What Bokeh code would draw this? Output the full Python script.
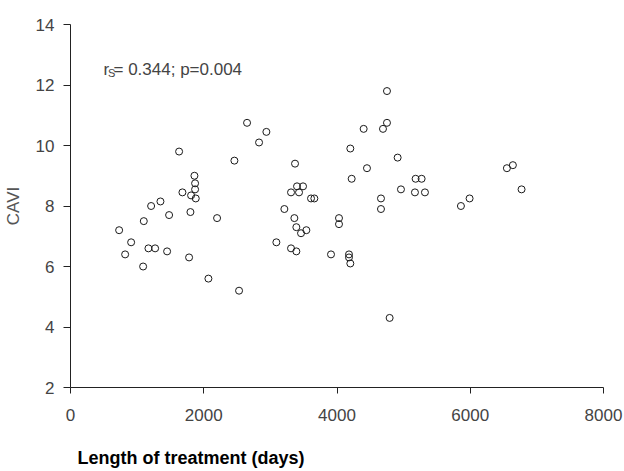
from bokeh.plotting import figure
from bokeh.models import Range1d, FixedTicker, Label, Title, ColumnDataSource
from bokeh.embed import file_html
from bokeh.resources import INLINE

# Data
treatment_days = [730, 820, 910, 1090, 1100, 1170, 1210, 1270, 1350, 1450,
                  1480, 1630, 1680, 1780, 1800, 1810, 1860, 1870, 1870, 1880,
                  2070, 2200, 2460, 2530, 2650, 2830, 2940, 3090, 3210, 3310,
                  3310, 3360, 3370, 3390, 3390, 3400, 3430, 3460, 3490, 3540,
                  3610, 3660, 3910, 4030, 4030, 4180, 4180, 4200, 4200, 4220,
                  4400, 4450, 4660, 4660, 4690, 4750, 4750, 4790, 4910, 4960,
                  5170, 5180, 5270, 5320, 5860, 5990, 6550, 6640, 6770]
cavi = [7.2, 6.4, 6.8, 6.0, 7.5, 6.6, 8.0, 6.6, 8.15, 6.5,
        7.7, 9.8, 8.45, 6.3, 7.8, 8.35, 9.0, 8.75, 8.55, 8.25,
        5.6, 7.6, 9.5, 5.2, 10.75, 10.1, 10.45, 6.8, 7.9, 8.45,
        6.6, 7.6, 9.4, 7.3, 6.5, 8.65, 8.45, 7.1, 8.65, 7.2,
        8.25, 8.25, 6.4, 7.6, 7.4, 6.4, 6.3, 6.1, 9.9, 8.9,
        10.55, 9.25, 8.25, 7.9, 10.55, 11.8, 10.75, 4.3, 9.6, 8.55,
        8.45, 8.9, 8.9, 8.45, 8.0, 8.25, 9.25, 9.35, 8.55]
x_ticks = [0, 2000, 4000, 6000, 8000]
y_ticks = [2, 4, 6, 8, 10, 12, 14]
x_title = "Length of treatment (days)"
y_title = "CAVI"

FONT = "Liberation Sans"

p = figure(width=624, height=471, output_backend="svg", toolbar_location=None,
           x_range=Range1d(0, 8000), y_range=Range1d(2, 14),
           min_border_left=69, min_border_right=21, min_border_top=24,
           min_border_bottom=84)
p.title.text = ""
p.outline_line_color = None
p.background_fill_color = "white"
p.border_fill_color = "white"
p.xgrid.visible = False
p.ygrid.visible = False

src = ColumnDataSource(dict(x=treatment_days, y=cavi))
p.scatter("x", "y", source=src, size=7, marker="circle",
          fill_color=None, line_color="#1a1a1a", line_width=1)

for ax in (p.xaxis[0], p.yaxis[0]):
    ax.axis_line_color = "#222222"
    ax.major_tick_line_color = "#222222"
    ax.minor_tick_line_color = None
    ax.major_tick_in = 0
    ax.major_label_text_font = FONT
    ax.major_label_text_font_size = "17px"
    ax.major_label_text_color = "#444444"

p.xaxis.ticker = FixedTicker(ticks=x_ticks)
p.yaxis.ticker = FixedTicker(ticks=y_ticks)
p.xaxis.major_tick_out = 6
p.yaxis.major_tick_out = 7
p.xaxis.major_label_standoff = 15
p.yaxis.major_label_standoff = 9

p.yaxis.axis_label = y_title
p.yaxis.axis_label_text_font = FONT
p.yaxis.axis_label_text_font_size = "17px"
p.yaxis.axis_label_text_font_style = "normal"
p.yaxis.axis_label_text_color = "#555555"
p.yaxis.axis_label_standoff = 10

# tiny blank axis label only used as vertical spacer below the tick labels
p.xaxis.axis_label = " "
p.xaxis.axis_label_text_font_size = "1px"
p.xaxis.axis_label_standoff = 18

xlabel = Title(text=x_title, align="left", offset=7, standoff=0,
               text_font=FONT, text_font_size="18px",
               text_font_style="bold", text_color="#000000")
p.add_layout(xlabel, "below")

# Annotation r_S = 0.344; p = 0.004 (screen units relative to frame)
lab_style = dict(x_units="screen", y_units="screen", text_font=FONT,
                 text_color="#444444", text_baseline="alphabetic")
p.add_layout(Label(x=33, y=318, text="r", text_font_size="17px", **lab_style))
p.add_layout(Label(x=37.5, y=315, text="S", text_font_size="11px", **lab_style))
p.add_layout(Label(x=43, y=318, text="= 0.344; p=0.004", text_font_size="17px", **lab_style))

open("out.html", "w").write(file_html(p, INLINE))
